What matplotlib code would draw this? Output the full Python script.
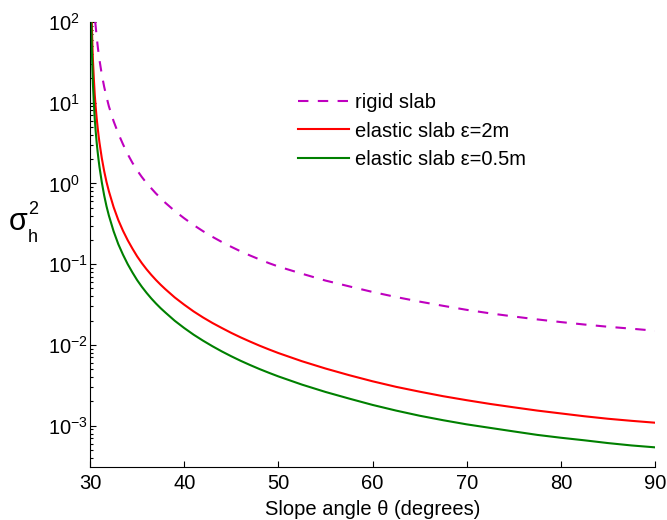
import matplotlib
matplotlib.use('Agg')
import matplotlib.pyplot as plt
from matplotlib.ticker import LogLocator, NullFormatter

plt.rcParams['font.family'] = ['Liberation Sans', 'DejaVu Sans']
plt.rcParams['mathtext.fontset'] = 'custom'
plt.rcParams['mathtext.rm'] = 'Liberation Sans'
plt.rcParams['mathtext.it'] = 'Liberation Sans'
plt.rcParams['mathtext.default'] = 'regular'

# rigid slab
theta_rigid = [30.55, 30.65, 30.75, 30.85, 31.0, 31.25, 31.5, 31.75, 32.0, 32.5, 33.0, 33.5, 34.0,
               34.5, 35.0, 35.5, 36.0, 37.0, 38.0, 39.0, 40.0, 41.0, 42.0, 43.0, 44.0, 45.0,
               46.0, 47.0, 48.0, 49.0, 50.0, 52.5, 55.0, 57.5, 60.0, 62.5, 65.0, 67.5, 70.0,
               72.5, 75.0, 77.5, 80.0, 82.5, 85.0, 87.5, 90.0]
sig_rigid = [100, 76.5, 58.3, 46, 33.8, 22.2, 15.7, 11.75, 9.0, 5.9, 4.15, 3.05, 2.3,
             1.8, 1.45, 1.2, 1.01, 0.75, 0.575, 0.455, 0.37, 0.305, 0.256, 0.218, 0.188, 0.164,
             0.144, 0.128, 0.1145, 0.103, 0.0935, 0.0762, 0.0627, 0.0532, 0.0453, 0.0392, 0.0344, 0.0305, 0.0272,
             0.0246, 0.0225, 0.0207, 0.0192, 0.0179, 0.0168, 0.0159, 0.015]

# elastic slab, eps = 2 m
theta_e2 = [30.18, 30.25, 30.3, 30.4, 30.5, 30.6, 30.7, 30.8, 30.9, 31.0, 31.25, 31.5, 31.75,
            32.0, 32.5, 33.0, 33.5, 34.0, 34.5, 35.0, 35.5, 36.0, 36.5, 37.0, 37.5, 38.0,
            39.0, 40.0, 41.0, 42.0, 43.0, 44.0, 45.0, 46.0, 47.0, 48.0, 49.0, 50.0, 52.5,
            55.0, 57.5, 60.0, 62.5, 65.0, 67.5, 70.0, 72.5, 75.0, 77.5, 80.0, 82.5, 85.0,
            87.5, 90.0]
sig_e2 = [100, 51, 35, 20, 12.5, 8.8, 6.5, 5.0, 3.95, 3.2, 2.05, 1.42, 1.04,
          0.8, 0.51, 0.352, 0.259, 0.198, 0.156, 0.125, 0.103, 0.0865, 0.0738, 0.0637, 0.0556, 0.049,
          0.0387, 0.0315, 0.026, 0.0219, 0.0187, 0.0162, 0.0141, 0.0124, 0.011, 0.0098, 0.0088, 0.00794, 0.00629,
          0.00511, 0.00423, 0.00355, 0.00303, 0.00264, 0.00232, 0.00207, 0.00186, 0.00169, 0.00154, 0.00142, 0.00131, 0.00122,
          0.00115, 0.00109]

# elastic slab, eps = 0.5 m
theta_e05 = [30.13, 30.18, 30.25, 30.3, 30.4, 30.5, 30.6, 30.7, 30.8, 30.9, 31.0, 31.25, 31.5,
             31.75, 32.0, 32.5, 33.0, 33.5, 34.0, 34.5, 35.0, 35.5, 36.0, 36.5, 37.0, 37.5,
             38.0, 39.0, 40.0, 41.0, 42.0, 43.0, 44.0, 45.0, 46.0, 47.0, 48.0, 49.0, 50.0,
             52.5, 55.0, 57.5, 60.0, 62.5, 65.0, 67.5, 70.0, 72.5, 75.0, 77.5, 80.0, 82.5,
             85.0, 87.5, 90.0]
sig_e05 = [100, 50, 26, 17.5, 10, 6.3, 4.4, 3.25, 2.5, 1.98, 1.6, 1.03, 0.71,
           0.52, 0.4, 0.256, 0.177, 0.131, 0.1, 0.079, 0.0635, 0.0525, 0.0442, 0.0377, 0.0326, 0.0285,
           0.0252, 0.0199, 0.0162, 0.0134, 0.0113, 0.00964, 0.00831, 0.00724, 0.00636, 0.00564, 0.00503, 0.00452, 0.00408,
           0.00323, 0.00262, 0.00217, 0.00181, 0.00154, 0.00133, 0.00117, 0.00104, 0.00094, 0.00085, 0.00077, 0.00071, 0.00066,
           0.00061, 0.00057, 0.00054]

xticks = [30, 40, 50, 60, 70, 80, 90]

fig = plt.figure(figsize=(6.67, 5.2), dpi=100)
ax = fig.add_axes([0.135, 0.1025, 0.847, 0.8555])

ax.semilogy(theta_rigid, sig_rigid, color=(0.75, 0, 0.75), lw=1.5, dashes=(5.0, 4.5), label='rigid slab')
ax.semilogy(theta_e2, sig_e2, color='#ff0000', lw=1.5, label='elastic slab ε=2m')
ax.semilogy(theta_e05, sig_e05, color='#008000', lw=1.5, label='elastic slab ε=0.5m')

ax.set_xlim(30, 90)
ax.set_ylim(3.11e-4, 100)
ax.set_xticks(xticks)
ax.yaxis.set_major_locator(LogLocator(base=10, numticks=10))
ax.yaxis.set_minor_locator(LogLocator(base=10, subs=range(2, 10), numticks=10))
ax.yaxis.set_minor_formatter(NullFormatter())

for s in ['top', 'right']:
    ax.spines[s].set_visible(False)
for s in ['left', 'bottom']:
    ax.spines[s].set_linewidth(0.8)

ax.tick_params(which='major', direction='in', length=4, width=0.8, labelsize=14.5)
ax.tick_params(which='minor', direction='in', length=2.5, width=0.8)
ax.tick_params(axis='x', pad=5)
# y labels: the "10" of every label starts at the same x
ax.tick_params(axis='y', pad=30.5)
plt.setp(ax.get_yticklabels(), ha='left')

ax.set_xlabel('Slope angle θ (degrees)', fontsize=14.5, labelpad=5)

# sigma_h^2 label, built from separate pieces
fig.text(0.027, 0.573, 'σ', fontsize=22, ha='center', va='center')
fig.text(0.049, 0.598, '2', fontsize=13, ha='center', va='center')
fig.text(0.049, 0.544, 'h', fontsize=13, ha='center', va='center')

ax.legend(loc='upper left', bbox_to_anchor=(0.353, 0.858), frameon=False, fontsize=14.5,
          handlelength=2.54, handletextpad=0.3, labelspacing=0.47, borderaxespad=0)

fig.savefig('out.png', dpi=100)
